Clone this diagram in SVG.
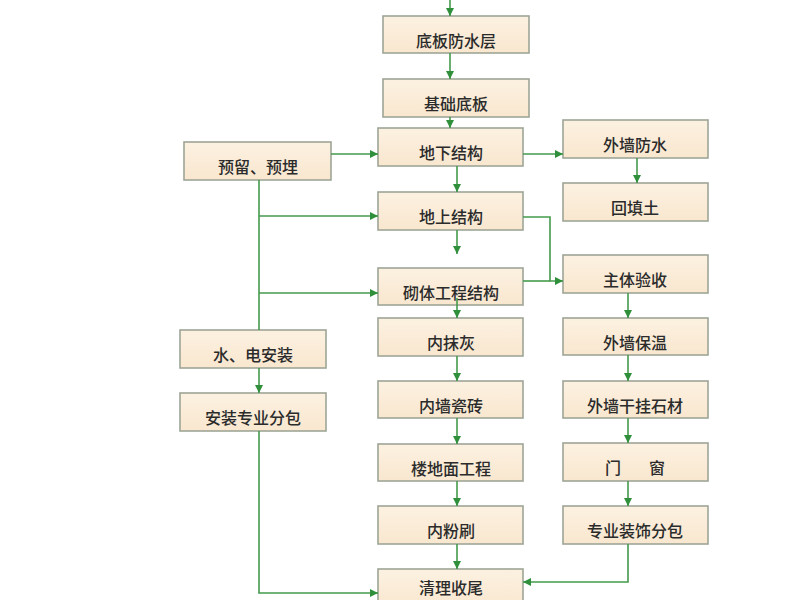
<svg xmlns="http://www.w3.org/2000/svg" width="800" height="600" viewBox="0 0 800 600">
<defs>
<linearGradient id="bf" x1="0" y1="0" x2="0" y2="1">
<stop offset="0" stop-color="#fcf1e1"/>
<stop offset="1" stop-color="#f9e7cf"/>
</linearGradient>
<marker id="ah" viewBox="0 0 10 10" refX="10" refY="5" markerWidth="8" markerHeight="8" markerUnits="userSpaceOnUse" orient="auto">
<path d="M0,0 L10,5 L0,10 z" fill="#2f8f3a"/>
</marker>
</defs>
<style>
.box{fill:url(#bf);stroke:#9ea596;stroke-width:1.6}
.t{font-family:"Noto Sans CJK SC","Noto Sans",sans-serif;font-size:16px;font-weight:500;fill:#2b2b2b;text-anchor:middle}
.c{fill:none;stroke:#449a4c;stroke-width:1.6}
.a{marker-end:url(#ah)}
</style>
<rect width="800" height="600" fill="#ffffff"/>
<g id="nodes">
<g id="n1"><rect class="box" x="383" y="16" width="146" height="37"/><text class="t" x="456" y="47">底板防水层</text></g>
<g id="n2"><rect class="box" x="383" y="79" width="146" height="38"/><text class="t" x="456" y="110">基础底板</text></g>
<g id="n3"><rect class="box" x="378" y="128" width="145" height="38"/><text class="t" x="451" y="159">地下结构</text></g>
<g id="n4"><rect class="box" x="184" y="142" width="147" height="38"/><text class="t" x="258" y="173">预留、预埋</text></g>
<g id="n5"><rect class="box" x="563" y="120" width="145" height="38"/><text class="t" x="635" y="151">外墙防水</text></g>
<g id="n6"><rect class="box" x="563" y="183" width="145" height="38"/><text class="t" x="635" y="214">回填土</text></g>
<g id="n7"><rect class="box" x="378" y="192" width="145" height="38"/><text class="t" x="451" y="223">地上结构</text></g>
<g id="n8"><rect class="box" x="378" y="268" width="145" height="37"/><text class="t" x="451" y="299">砌体工程结构</text></g>
<g id="n9"><rect class="box" x="563" y="255" width="145" height="38"/><text class="t" x="635" y="286">主体验收</text></g>
<g id="n10"><rect class="box" x="378" y="318" width="145" height="38"/><text class="t" x="451" y="349">内抹灰</text></g>
<g id="n11"><rect class="box" x="563" y="318" width="145" height="37"/><text class="t" x="635" y="349">外墙保温</text></g>
<g id="n12"><rect class="box" x="180" y="330" width="146" height="38"/><text class="t" x="253" y="361">水、电安装</text></g>
<g id="n13"><rect class="box" x="180" y="393" width="146" height="38"/><text class="t" x="253" y="424">安装专业分包</text></g>
<g id="n14"><rect class="box" x="378" y="381" width="145" height="37"/><text class="t" x="451" y="412">内墙瓷砖</text></g>
<g id="n15"><rect class="box" x="563" y="381" width="145" height="37"/><text class="t" x="635" y="412">外墙干挂石材</text></g>
<g id="n16"><rect class="box" x="378" y="444" width="145" height="37"/><text class="t" x="451" y="475">楼地面工程</text></g>
<g id="n17"><rect class="box" x="563" y="443" width="145" height="38"/><text class="t" y="474"><tspan x="613">门</tspan><tspan x="657">窗</tspan></text></g>
<g id="n18"><rect class="box" x="378" y="506" width="145" height="38"/><text class="t" x="451" y="537">内粉刷</text></g>
<g id="n19"><rect class="box" x="563" y="506" width="145" height="38"/><text class="t" x="635" y="537">专业装饰分包</text></g>
<g id="n20"><rect class="box" x="378" y="569" width="145" height="40"/><text class="t" x="451" y="594">清理收尾</text></g>
</g>
<g id="connectors">
<path class="c a" d="M450,0 V16"/>
<path class="c a" d="M450,53 V79"/>
<path class="c a" d="M450,117 V128"/>
<path class="c a" d="M457,166 V192"/>
<path class="c a" d="M457,230 V254"/>
<path class="c a" d="M457,298 V318"/>
<path class="c a" d="M457,356 V381"/>
<path class="c a" d="M457,418 V444"/>
<path class="c a" d="M457,481 V506"/>
<path class="c a" d="M457,544 V569"/>
<path class="c a" d="M331,154 H378"/>
<path class="c a" d="M523,154 H563"/>
<path class="c a" d="M637,158 V183"/>
<path class="c a" d="M523,217 H550 V281 H563"/>
<path class="c" d="M523,281 H550"/>
<path class="c a" d="M628,293 V318"/>
<path class="c a" d="M628,355 V381"/>
<path class="c a" d="M628,418 V443"/>
<path class="c a" d="M628,481 V506"/>
<path class="c a" d="M628,544 V582 H523"/>
<path class="c" d="M259,180 V330"/>
<path class="c a" d="M259,216 H378"/>
<path class="c a" d="M259,293 H378"/>
<path class="c a" d="M259,368 V393"/>
<path class="c a" d="M259,431 V593 H378"/>
</g>
</svg>
